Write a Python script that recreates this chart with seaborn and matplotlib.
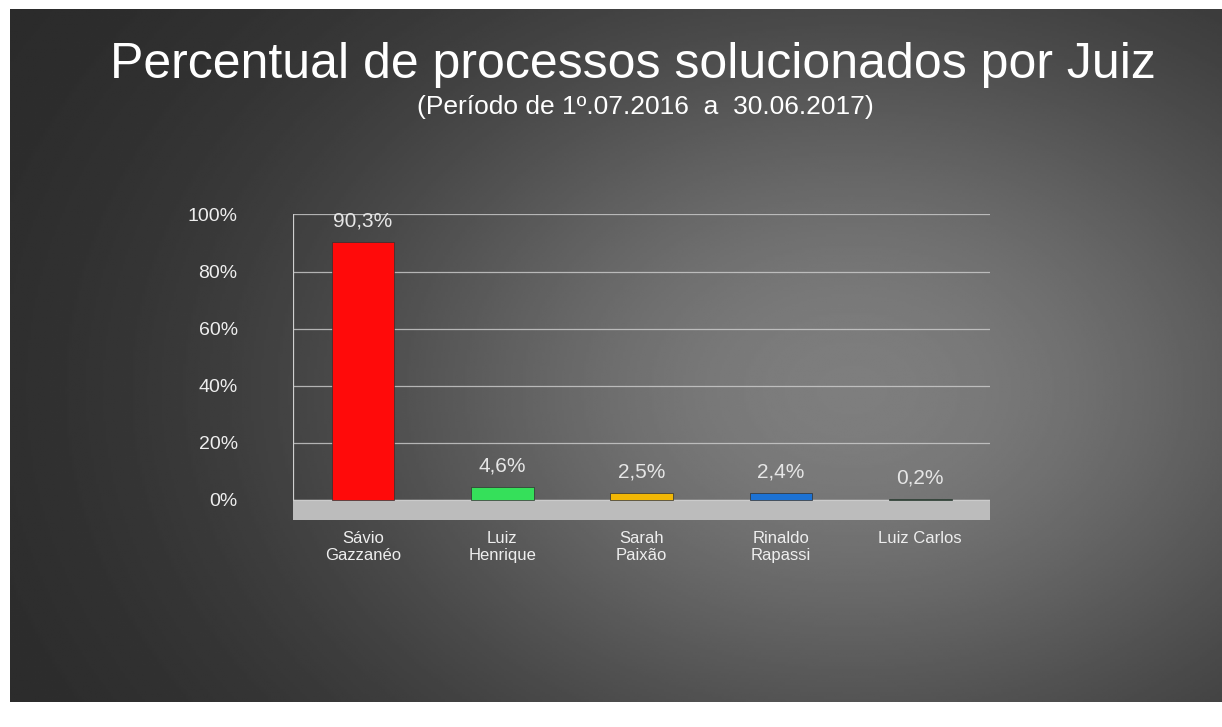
import numpy as np
import pandas as pd
import seaborn as sns
import matplotlib.pyplot as plt

juizes = ['Sávio\nGazzanéo', 'Luiz\nHenrique', 'Sarah\nPaixão', 'Rinaldo\nRapassi', 'Luiz Carlos']
percentuais = [90.3, 4.6, 2.5, 2.4, 0.2]
rotulos = ['90,3%', '4,6%', '2,5%', '2,4%', '0,2%']
cores = ['#ff0a0a', '#35e05a', '#f2b705', '#1c72d4', '#0b6b32']
ticks_y = [0, 20, 40, 60, 80, 100]

df = pd.DataFrame({'Juiz': juizes, 'Percentual': percentuais})

sns.set_theme(style='white')
plt.rcParams['font.family'] = ['Liberation Sans', 'DejaVu Sans']

fig = plt.figure(figsize=(12.22, 7.27), dpi=100)
fig.patch.set_facecolor('white')

# dark slide background with a lighter glow toward the right
bg = fig.add_axes([0.008, 0.035, 0.992, 0.952])
yy, xx = np.mgrid[0:1:300j, 0:1:500j]
glow = np.exp(-(((xx - 0.62) / 0.45) ** 2 + ((yy - 0.55) / 0.55) ** 2))
bg.imshow(0.16 + 0.42 * glow * (0.4 + 0.6 * xx), cmap='gray', vmin=0, vmax=1,
          aspect='auto', extent=[0, 1, 0, 1])
bg.axis('off')

ax = fig.add_axes([0.24, 0.285, 0.57, 0.42])
ax.patch.set_alpha(0)
ax.axhspan(-7, 0, color='#bcbcbc', zorder=0)
sns.barplot(data=df, x='Juiz', y='Percentual', hue='Juiz', palette=cores,
            legend=False, width=0.45, edgecolor='#303030', linewidth=0.5,
            saturation=1, ax=ax, zorder=3)

for i, (v, txt) in enumerate(zip(percentuais, rotulos)):
    ax.text(i, v + 4, txt, ha='center', va='bottom', color='#e6e6e6',
            fontsize=15, zorder=4)

ax.set_ylim(-7, 100)
ax.set_yticks(ticks_y)
ax.set_yticklabels([f'{t}%' for t in ticks_y], color='#eeeeee', fontsize=14)
ax.tick_params(axis='x', colors='#eeeeee', labelsize=12, length=0, pad=8)
ax.tick_params(axis='y', length=0, pad=40)
ax.set_xlabel('')
ax.set_ylabel('')
ax.yaxis.grid(True, color='#cfcfcf', linewidth=0.9, alpha=0.8)
ax.set_axisbelow(True)
for s in ax.spines.values():
    s.set_visible(False)
ax.axvline(-0.5, ymin=7 / 107, ymax=1, color='#cfcfcf', linewidth=0.9)

fig.text(0.518, 0.91, 'Percentual de processos solucionados por Juiz',
         ha='center', va='center', color='white', fontsize=36)
fig.text(0.528, 0.853, '(Período de 1º.07.2016  a  30.06.2017)',
         ha='center', va='center', color='white', fontsize=19)

fig.savefig('out.png', dpi=100)
